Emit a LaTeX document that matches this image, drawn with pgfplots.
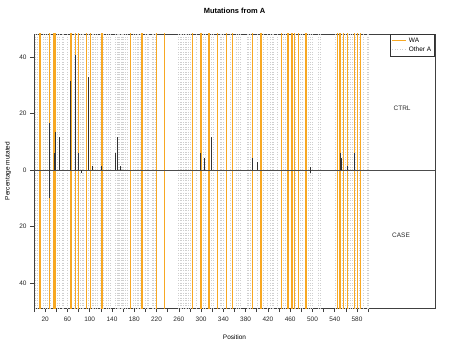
\documentclass[border=0pt]{standalone}
\usepackage{pgfplots}
\pgfplotsset{compat=1.18}
\usepackage{fontspec}
\setmainfont{Liberation Sans}
\definecolor{wa}{HTML}{F7A823}
\definecolor{otherA}{HTML}{CFCFCF}
\definecolor{bar}{HTML}{333333}
\begin{document}
\begin{tikzpicture}
\path[use as bounding box] (-34bp,-42bp) rectangle (418bp,308bp);
\begin{axis}[
  scale only axis, width=401bp, height=274bp,
  at={(0,0)}, anchor=south west,
  xmin=0, xmax=720, ymin=-48.8, ymax=48.1,
  axis line style={black!75, line width=0.7bp},
  xtick={20,60,...,580}, minor xtick={0,40,...,600},
  ytick={-40,-20,0,20,40}, yticklabels={40,20,0,20,40},
  xtick pos=bottom, ytick pos=left, tick align=outside,
  major tick length=4bp, minor tick length=4bp,
  tick style={black!75, line width=0.6bp},
  every tick label/.append style={font=\fontsize{6.5}{7}\selectfont, text=black!85},
  /pgf/number format/assume math mode=true,
  xticklabel style={yshift=-1bp},
  title={Mutations from A},
  title style={at={(axis description cs:0.5,1)}, anchor=center, yshift=17bp, font=\bfseries\fontsize{7.5}{9}\selectfont},
  xlabel={Position}, ylabel={Percentage mutated},
  xlabel style={at={(axis description cs:0.5,0)}, anchor=center, yshift=-29bp, font=\fontsize{6.5}{8}\selectfont},
  ylabel style={at={(axis description cs:-0.065,0.5)}, anchor=center, font=\fontsize{6.5}{8}\selectfont},
  clip=true,
  legend style={at={(1,1)}, anchor=north east, draw=black!80, line width=0.6bp,
    font=\fontsize{6.5}{7.5}\selectfont, legend cell align=left, inner sep=1.5bp, row sep=-1bp},
  legend image code/.code={\draw[#1] (0bp,0bp) -- (14bp,0bp);},
]
\addlegendimage{wa, line width=0.9bp}
\addlegendentry{WA}
\addlegendimage{otherA, line width=0.7bp, dash pattern=on 1bp off 1.5bp}
\addlegendentry{Other A}
% Other A positions (gray dotted)
\addplot[otherA, line width=0.5bp, dash pattern=on 1bp off 1.5bp, ycomb, mark=none, forget plot] coordinates {
(2,60)(2,-60)(6,60)(6,-60)(16,60)(16,-60)(20,60)(20,-60)(23,60)(23,-60)(29,60)(29,-60)
(41,60)(41,-60)(45,60)(45,-60)(50,60)(50,-60)(53,60)(53,-60)(59,60)(59,-60)(72,60)(72,-60)
(77,60)(77,-60)(83,60)(83,-60)(86,60)(86,-60)(89,60)(89,-60)(98,60)(98,-60)(104,60)(104,-60)
(107,60)(107,-60)(110,60)(110,-60)(114,60)(114,-60)(119,60)(119,-60)(125,60)(125,-60)
(129,60)(129,-60)(134,60)(134,-60)(137,60)(137,-60)(146,60)(146,-60)(149,60)(149,-60)
(151,60)(151,-60)(153,60)(153,-60)(156,60)(156,-60)(158,60)(158,-60)(161,60)(161,-60)
(164,60)(164,-60)(167,60)(167,-60)(179,60)(179,-60)(182,60)(182,-60)(185,60)(185,-60)
(188,60)(188,-60)(191,60)(191,-60)(200,60)(200,-60)(203,60)(203,-60)(206,60)(206,-60)
(212,60)(212,-60)(215,60)(215,-60)(217,60)(217,-60)(259,60)(259,-60)(262,60)(262,-60)
(265,60)(265,-60)(268,60)(268,-60)(271,60)(271,-60)(274,60)(274,-60)(277,60)(277,-60)
(281,60)(281,-60)(292,60)(292,-60)(304,60)(304,-60)(307,60)(307,-60)(319,60)(319,-60)
(322,60)(322,-60)(334,60)(334,-60)(337,60)(337,-60)(340,60)(340,-60)(352,60)(352,-60)
(364,60)(364,-60)(367,60)(367,-60)(370,60)(370,-60)(382,60)(382,-60)(385,60)(385,-60)
(388,60)(388,-60)(400,60)(400,-60)(412,60)(412,-60)(418,60)(418,-60)(424,60)(424,-60)
(427,60)(427,-60)(430,60)(430,-60)(436,60)(436,-60)(448,60)(448,-60)(451,60)(451,-60)
(469,60)(469,-60)(478,60)(478,-60)(481,60)(481,-60)(493,60)(493,-60)(496,60)(496,-60)
(499,60)(499,-60)(511,60)(511,-60)(514,60)(514,-60)(541,60)(541,-60)(553,60)(553,-60)
(559,60)(559,-60)(565,60)(565,-60)(568,60)(568,-60)(571,60)(571,-60)(577,60)(577,-60)
(584,60)(584,-60)(592,60)(592,-60)(598,60)(598,-60)(601,60)(601,-60)
};
% WA positions (orange)
\addplot[wa, line width=0.9bp, ycomb, mark=none, forget plot] coordinates {
(10,60)(10,-60)(12,60)(12,-60)(27,60)(27,-60)(35,60)(35,-60)(37,60)(37,-60)(39,60)(39,-60)
(66,60)(66,-60)(67,60)(67,-60)(74,60)(74,-60)(80,60)(80,-60)(95,60)(95,-60)(101,60)(101,-60)
(102,60)(102,-60)(122,60)(122,-60)(123,60)(123,-60)(173,60)(173,-60)(193,60)(193,-60)
(194,60)(194,-60)(219,60)(219,-60)(234,60)(234,-60)(285,60)(285,-60)(298,60)(298,-60)
(300,60)(300,-60)(313,60)(313,-60)(315,60)(315,-60)(329,60)(329,-60)(346,60)(346,-60)
(356,60)(356,-60)(392,60)(392,-60)(407,60)(407,-60)(408,60)(408,-60)(444,60)(444,-60)
(455,60)(455,-60)(456,60)(456,-60)(462,60)(462,-60)(464,60)(464,-60)(467,60)(467,-60)
(474,60)(474,-60)(487,60)(487,-60)(489,60)(489,-60)(545,60)(545,-60)(548,60)(548,-60)
(551,60)(551,-60)(556,60)(556,-60)(562,60)(562,-60)(575,60)(575,-60)(581,60)(581,-60)
(587,60)(587,-60)
};
% zero line
\addplot[black!70, line width=0.7bp, mark=none, forget plot] coordinates {(0,0) (720,0)};
% CTRL (up) and CASE (down) percentages
\addplot[bar, line width=1bp, ycomb, mark=none, forget plot] coordinates {
(27,16.5)(37,5.9)(39,13.4)(46,11.8)(66,31.5)(74,40.5)(80,5.9)(98,32.9)(105,1.4)(122,1.5)
(146,5.9)(150,11.8)(156,1.4)(299,5.9)(306,4.4)(318,11.8)(393,4.4)(402,2.8)(497,1.2)
(551,5.9)(553,4.4)(562,1.4)(575,5.9)
};
\addplot[bar, line width=1bp, ycomb, mark=none, forget plot] coordinates {
(27,-10)(86,-1.2)(497,-1)
};
\node[font=\fontsize{6.5}{8}\selectfont, text=black!85] at (axis cs:661,22) {CTRL};
\node[font=\fontsize{6.5}{8}\selectfont, text=black!85] at (axis cs:659,-23) {CASE};
\end{axis}
\end{tikzpicture}
\end{document}
